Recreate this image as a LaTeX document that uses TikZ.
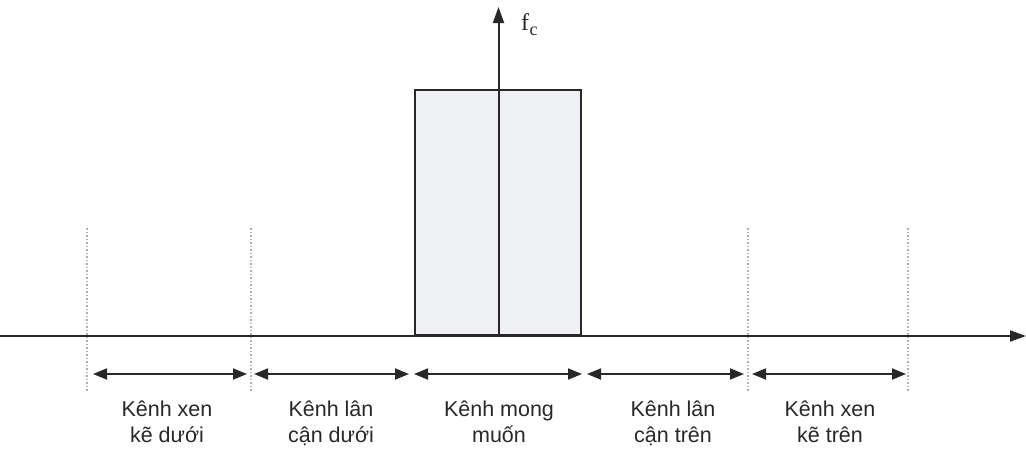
\documentclass[tikz,border=0pt]{standalone}
\usepackage{fontspec}
\setmainfont{Liberation Sans}
\newfontfamily\serifface{Liberation Serif}
\usetikzlibrary{arrows.meta}
\definecolor{ink}{RGB}{40,40,40}
\definecolor{boxfill}{RGB}{238,240,243}
\definecolor{guide}{RGB}{175,175,175}
\tikzset{
  axisline/.style={draw=ink, line width=2pt, -{Triangle[length=16pt,width=11pt]}},
  guideline/.style={draw=guide, line width=1.5pt, dotted},
  span/.style={draw=ink, line width=1.8pt, {Triangle[length=14pt,width=11pt]}-{Triangle[length=14pt,width=11pt]}},
  lbl/.style={align=center, text=ink, font=\fontsize{21.5}{26}\selectfont, inner sep=0pt, anchor=north}
}
\begin{document}
\begin{tikzpicture}[x=1pt,y=-1pt]
\useasboundingbox (0,0) rectangle (1026,453);
% coordinates
\coordinate (axL) at (0,336);
\coordinate (axR) at (1026,336);
\coordinate (vB) at (498.5,336);
\coordinate (vT) at (498.5,7);
% guides
\foreach \x [count=\i] in {87,251,748,908}{
  \coordinate (gT\i) at (\x,228);
  \coordinate (gB\i) at (\x,391);
  \draw[guideline] (gT\i) -- (gB\i);
}
% desired channel box
\node[draw=ink, line width=2pt, fill=boxfill, minimum width=166pt, minimum height=245pt, inner sep=0pt, anchor=south west] (box) at (414,336) {};
% axes
\draw[axisline] (axL) -- (axR);
\draw[axisline] (vB) -- (vT);
\node[anchor=west, inner sep=0pt, text=ink] (fc) at (521,25) {\serifface\fontsize{24}{26}\selectfont f\kern0.5pt\raisebox{-0.2em}{\fontsize{18}{20}\selectfont c}};
% span arrows
\foreach \a/\b [count=\i] in {93/247, 254/409, 414/582, 587/744, 752/906}{
  \coordinate (sL\i) at (\a,374);
  \coordinate (sR\i) at (\b,374);
  \draw[span] (sL\i) -- (sR\i);
}
% labels
\node[lbl] (l1) at (167,401) {Kênh xen\\kẽ dưới};
\node[lbl] (l2) at (331,401) {Kênh lân\\cận dưới};
\node[lbl] (l3) at (499,401) {Kênh mong\\muốn};
\node[lbl] (l4) at (673,401) {Kênh lân\\cận trên};
\node[lbl] (l5) at (830,401) {Kênh xen\\kẽ trên};
\end{tikzpicture}
\end{document}
